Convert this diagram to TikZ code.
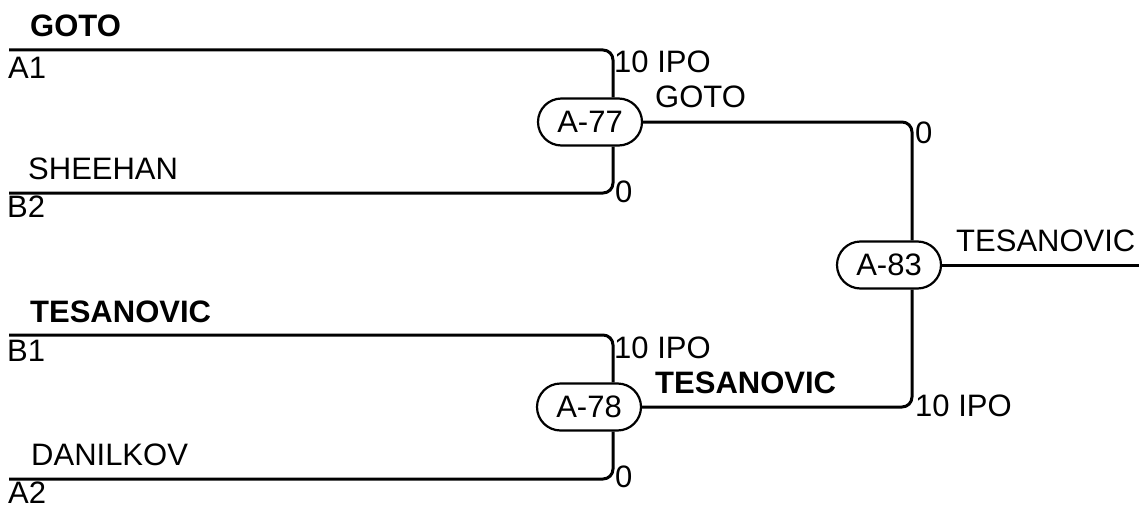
\documentclass[tikz,border=0pt]{standalone}
\usepackage{fontspec}
\setmainfont{Liberation Sans}
\usetikzlibrary{shapes.misc,positioning}

\tikzset{
  game/.style={draw, rounded rectangle, line width=2.2pt, minimum width=104pt,
    minimum height=47pt, inner sep=0pt, font=\fontsize{31}{37}\selectfont},
  wire/.style={line width=3pt, rounded corners=10pt},
  lbl/.style={anchor=base west, inner sep=0pt, font=\fontsize{31}{37}\selectfont},
  winner/.style={lbl, font=\fontsize{31}{37}\selectfont\bfseries},
}

\begin{document}
\begin{tikzpicture}[x=1pt,y=-1pt]
    \useasboundingbox (0,0) rectangle (1139,508);

    % matches
    \node[game] (m77) at (590,122) {A-77};
    \node[game] (m78) at (589,407) {A-78};
    \node[game] (m83) at (889,265) {A-83};

    % seed line ends
    \coordinate (a1) at (9,50);
    \coordinate (b2) at (9,193);
    \coordinate (b1) at (9,335);
    \coordinate (a2) at (9,479);
    \coordinate (out) at (1139,265);

    % first round
    \draw[wire] (a1) -| ([xshift=23pt]m77.north);
    \draw[wire] (b2) -| ([xshift=23pt]m77.south);
    \draw[wire] (b1) -| ([xshift=24pt]m78.north);
    \draw[wire] (a2) -| ([xshift=24pt]m78.south);

    % final
    \draw[wire] (m77.east) -| ([xshift=23pt]m83.north);
    \draw[wire] (m78.east) -| ([xshift=23pt]m83.south);
    \draw[wire] (m83.east) -- (out);

    % names and seeds
    \node[winner] (nGoto) at (30,37) {GOTO};
    \node[lbl] (sA1) at (8,79) {A1};
    \node[lbl] (nSheehan) at (28,179) {SHEEHAN};
    \node[lbl] (sB2) at (7,217) {B2};
    \node[winner] (nTesanovic) at (30,322) {TESANOVIC};
    \node[lbl] (sB1) at (7,361) {B1};
    \node[lbl] (nDanilkov) at (31,465) {DANILKOV};
    \node[lbl] (sA2) at (8,503) {A2};

    % scores
    \node[lbl] (s77a) at (614,73) {10 IPO};
    \node[lbl] (s77b) at (615,202) {0};
    \node[lbl] (s78a) at (614,358) {10 IPO};
    \node[lbl] (s78b) at (615,487) {0};
    \node[lbl] (s83a) at (915,143) {0};
    \node[lbl] (s83b) at (915,416) {10 IPO};

    % winners
    \node[lbl] (w77) at (655,107) {GOTO};
    \node[winner] (w78) at (655,393) {TESANOVIC};
    \node[lbl] (w83) at (956,251) {TESANOVIC};
\end{tikzpicture}
\end{document}
